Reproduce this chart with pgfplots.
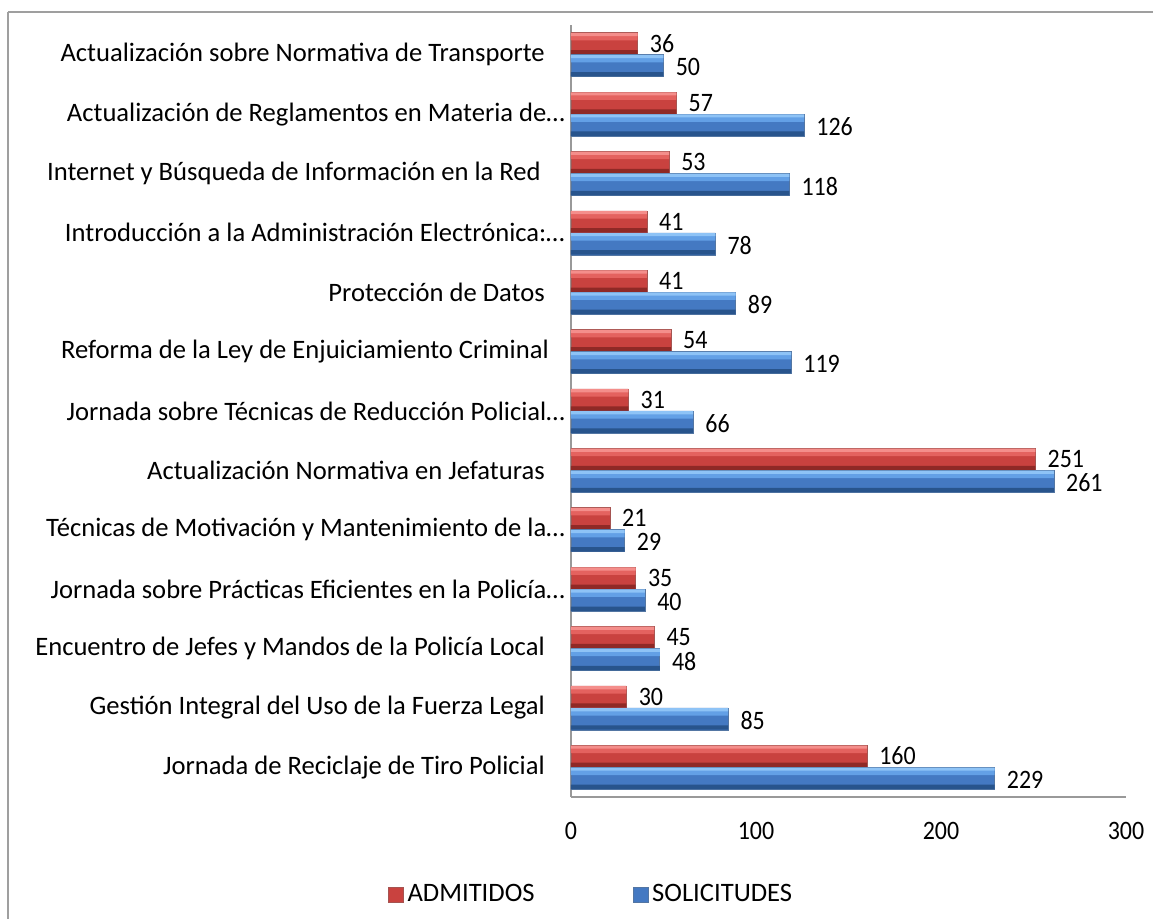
\documentclass[border=0pt]{standalone}
\usepackage{fontspec}
\setmainfont{Carlito}
\newfontfamily\numfont[FakeStretch=0.9]{Carlito}
\usepackage{pgfplots}
\usepackage{pgfplotstable}
\pgfplotsset{compat=1.18}

\definecolor{redtop}{HTML}{F48E8B}
\definecolor{redhi}{HTML}{E4625F}
\definecolor{redmid}{HTML}{C9423F}
\definecolor{redbot}{HTML}{8F2926}
\definecolor{bluetop}{HTML}{8EC3F6}
\definecolor{bluehi}{HTML}{63A0E6}
\definecolor{bluemid}{HTML}{4479C2}
\definecolor{bluebot}{HTML}{28548C}

\pgfplotsset{sqlegend/.style={legend image code/.code={\draw[##1] (0pt,-3.75pt) rectangle (7.5pt,3.75pt);}}}

\pgfplotstableread{
y adm sol
0 160 229
1 30 85
2 45 48
3 35 40
4 21 29
5 251 261
6 31 66
7 54 119
8 41 89
9 41 78
10 53 118
11 57 126
12 36 50
}\datatable

\begin{document}
\fontsize{13.3}{16}\selectfont
\begin{tikzpicture}
\useasboundingbox (0pt,0pt) rectangle (576.5pt,-459.5pt);
\draw[gray!75, line width=0.8pt] (4pt,-6pt) -- (576.5pt,-6pt);
\draw[gray!75, line width=0.8pt] (4pt,-6pt) -- (4pt,-459.5pt);
\begin{axis}[
  at={(285.5pt,-398.5pt)}, anchor=south west,
  scale only axis,
  width=277.5pt, height=386pt,
  xbar,
  xmin=0, xmax=300,
  ymin=-0.5, ymax=12.5,
  xtick={0,100,200,300},
  ytick={0,...,12},
  yticklabels={
    {Jornada de Reciclaje de Tiro Policial\kern10pt},
    {Gestión Integral del Uso de la Fuerza Legal\kern10pt},
    {Encuentro de Jefes y Mandos de la Policía Local\kern10pt},
    {Jornada sobre Prácticas Eficientes en la Policía…},
    {Técnicas de Motivación y Mantenimiento de la…},
    {Actualización Normativa en Jefaturas\kern10pt},
    {Jornada sobre Técnicas de Reducción Policial…},
    {Reforma de la Ley de Enjuiciamiento Criminal\kern8pt},
    {Protección de Datos\kern10pt},
    {Introducción a la Administración Electrónica:…},
    {Internet y Búsqueda de Información en la Red\kern12pt},
    {Actualización de Reglamentos en Materia de…},
    {Actualización sobre Normativa de Transporte\kern10pt}
  },
  major tick length=0pt,
  axis x line*=bottom,
  axis y line*=left,
  axis line style={gray!80, line width=0.6pt, -},
  yticklabel style={anchor=east, xshift=1.5pt, font=\fontsize{13.3}{16}\selectfont},
  xticklabel style={yshift=-8pt, font=\numfont\fontsize{13.3}{16}\selectfont},
  /pgf/number format/assume math mode=true,
  legend style={at={(rel axis cs:0.038,-0.127)}, anchor=center, draw=none,
    legend columns=2, font=\fontsize{13.3}{16}\selectfont,
    /tikz/every even column/.append style={column sep=47pt}},
  legend cell align=left,
  clip=false,
]
% ADMITIDOS
\addplot[bar width=11pt, bar shift=5.5pt, draw=redbot!80, line width=0.3pt, fill=redmid, sqlegend,
  nodes near coords, nodes near coords style={font=\numfont\fontsize{13.3}{16}\selectfont, anchor=west, inner sep=1pt, xshift=5pt, yshift=0.2pt}]
  table[x=adm, y=y] {\datatable};
\addplot[forget plot, bar width=3.5pt, bar shift=8.9pt, draw=none, fill=redhi] table[x=adm, y=y] {\datatable};
\addplot[forget plot, bar width=1.6pt, bar shift=10.1pt, draw=none, fill=redtop] table[x=adm, y=y] {\datatable};
\addplot[forget plot, bar width=2.2pt, bar shift=1.2pt, draw=none, fill=redbot] table[x=adm, y=y] {\datatable};
% SOLICITUDES
\addplot[bar width=11pt, bar shift=-5.5pt, draw=bluebot!80, line width=0.3pt, fill=bluemid, sqlegend,
  nodes near coords, nodes near coords style={font=\numfont\fontsize{13.3}{16}\selectfont, anchor=west, inner sep=1pt, xshift=5pt, yshift=-0.8pt}]
  table[x=sol, y=y] {\datatable};
\addplot[forget plot, bar width=3.5pt, bar shift=-2.1pt, draw=none, fill=bluehi] table[x=sol, y=y] {\datatable};
\addplot[forget plot, bar width=1.6pt, bar shift=-0.9pt, draw=none, fill=bluetop] table[x=sol, y=y] {\datatable};
\addplot[forget plot, bar width=2.2pt, bar shift=-9.8pt, draw=none, fill=bluebot] table[x=sol, y=y] {\datatable};
\legend{ADMITIDOS, SOLICITUDES}
\end{axis}
\end{tikzpicture}
\end{document}
